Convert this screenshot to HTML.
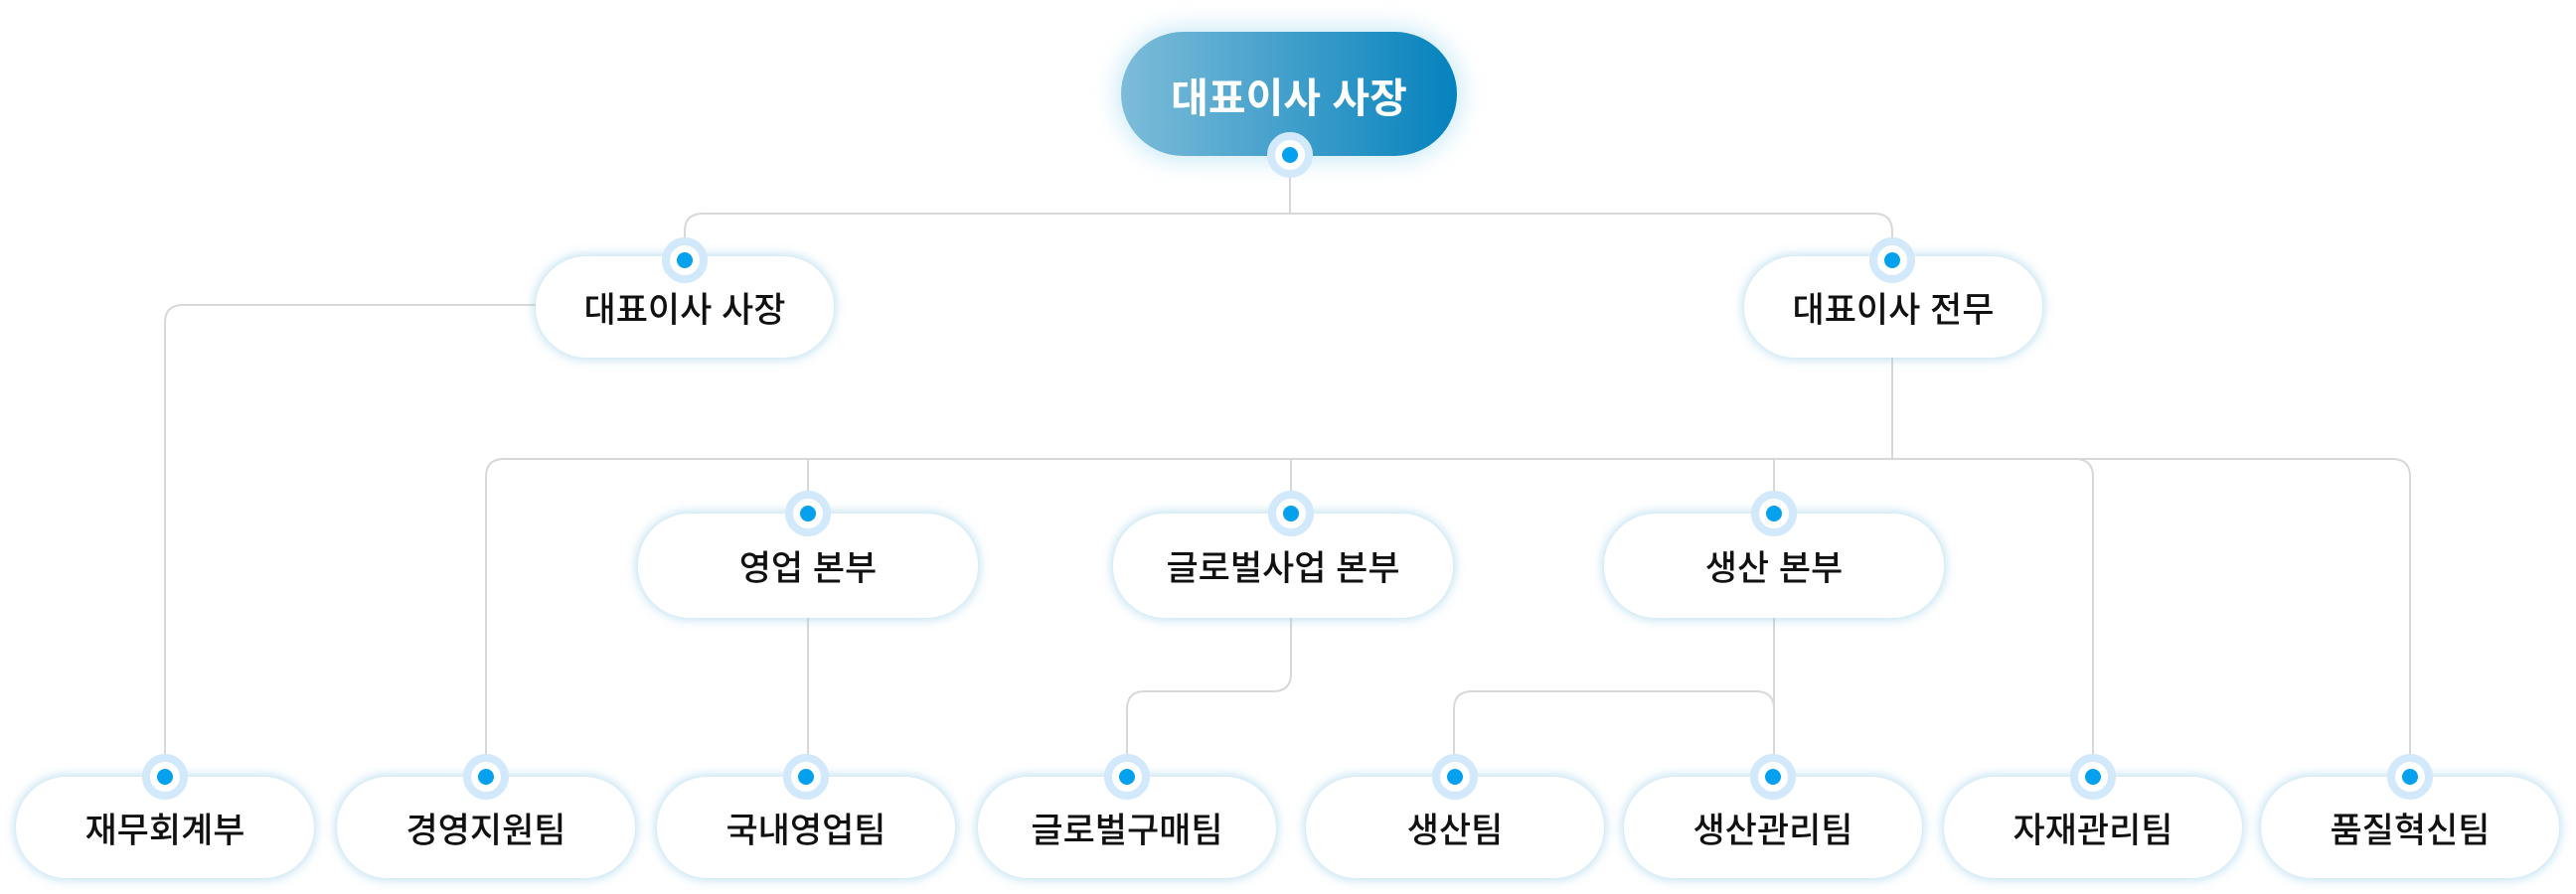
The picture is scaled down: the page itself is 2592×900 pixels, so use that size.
<!DOCTYPE html>
<html><head><meta charset="utf-8"><style>
html,body{margin:0;padding:0;background:#fff;}
body{width:2592px;height:900px;position:relative;overflow:hidden;font-family:"Liberation Sans","Noto Sans CJK KR",sans-serif;}
.n{position:absolute;background:#fff;border-radius:52px;box-shadow:0 0 10px 2px rgba(140,200,230,0.55);display:flex;align-items:center;justify-content:center;color:#111;font-weight:500;font-size:35px;}
.top{position:absolute;left:1128px;top:32px;width:338px;height:125px;border-radius:63px;background:linear-gradient(90deg,#7dbcd9,#0582bd);color:#fff;font-weight:700;font-size:41px;display:flex;align-items:center;justify-content:center;box-shadow:0 0 22px 6px rgba(120,200,235,0.35);}
.d{position:absolute;width:30px;height:30px;margin:-23px 0 0 -23px;border-radius:50%;background:#fff;border:8px solid #d2e8fb;}
.d::after{content:"";position:absolute;left:7px;top:7px;width:16px;height:16px;border-radius:50%;background:#05a1ef;}
svg{position:absolute;left:0;top:0;}
</style></head><body>
<svg width="2592" height="900" fill="none" stroke="#d8d8d8" stroke-width="2">
<path d="M1298,160 V215"/>
<path d="M689,262 V233 Q689,215 707,215 H1886 Q1904,215 1904,233 V262"/>
<path d="M539,307 H184 Q166,307 166,325 V782"/>
<path d="M1904,360 V462"/>
<path d="M489,782 V480 Q489,462 507,462 H2407 Q2425,462 2425,480 V782"/>
<path d="M2088,462 Q2106,462 2106,480 V782"/>
<path d="M813,462 V517 M1299,462 V517 M1785,462 V517"/>
<path d="M813,622 V782"/>
<path d="M1299,622 V678 Q1299,696 1281,696 H1152 Q1134,696 1134,714 V782"/>
<path d="M1785,622 V782"/>
<path d="M1785,714 Q1785,696 1767,696 H1481 Q1463,696 1463,714 V782"/>
</svg>
<div class="top">대표이사 사장</div>
<div class="n" style="left:539px;top:258px;width:300px;height:102px;">대표이사 사장</div>
<div class="n" style="left:1755px;top:258px;width:300px;height:102px;">대표이사 전무</div>
<div class="n" style="left:642px;top:517px;width:342px;height:105px;">영업 본부</div>
<div class="n" style="left:1120px;top:517px;width:342px;height:105px;">글로벌사업 본부</div>
<div class="n" style="left:1614px;top:517px;width:342px;height:105px;">생산 본부</div>
<div class="n" style="left:16px;top:782px;width:300px;height:102px;">재무회계부</div>
<div class="n" style="left:339px;top:782px;width:300px;height:102px;">경영지원팀</div>
<div class="n" style="left:661px;top:782px;width:300px;height:102px;">국내영업팀</div>
<div class="n" style="left:984px;top:782px;width:300px;height:102px;">글로벌구매팀</div>
<div class="n" style="left:1314px;top:782px;width:300px;height:102px;">생산팀</div>
<div class="n" style="left:1634px;top:782px;width:300px;height:102px;">생산관리팀</div>
<div class="n" style="left:1956px;top:782px;width:300px;height:102px;">자재관리팀</div>
<div class="n" style="left:2275px;top:782px;width:300px;height:102px;">품질혁신팀</div>
<div class="d" style="left:1298px;top:156px;"></div>
<div class="d" style="left:689px;top:262px;"></div>
<div class="d" style="left:1904px;top:262px;"></div>
<div class="d" style="left:813px;top:517px;"></div>
<div class="d" style="left:1299px;top:517px;"></div>
<div class="d" style="left:1785px;top:517px;"></div>
<div class="d" style="left:166px;top:782px;"></div>
<div class="d" style="left:489px;top:782px;"></div>
<div class="d" style="left:811px;top:782px;"></div>
<div class="d" style="left:1134px;top:782px;"></div>
<div class="d" style="left:1464px;top:782px;"></div>
<div class="d" style="left:1784px;top:782px;"></div>
<div class="d" style="left:2106px;top:782px;"></div>
<div class="d" style="left:2425px;top:782px;"></div>
</body></html>
